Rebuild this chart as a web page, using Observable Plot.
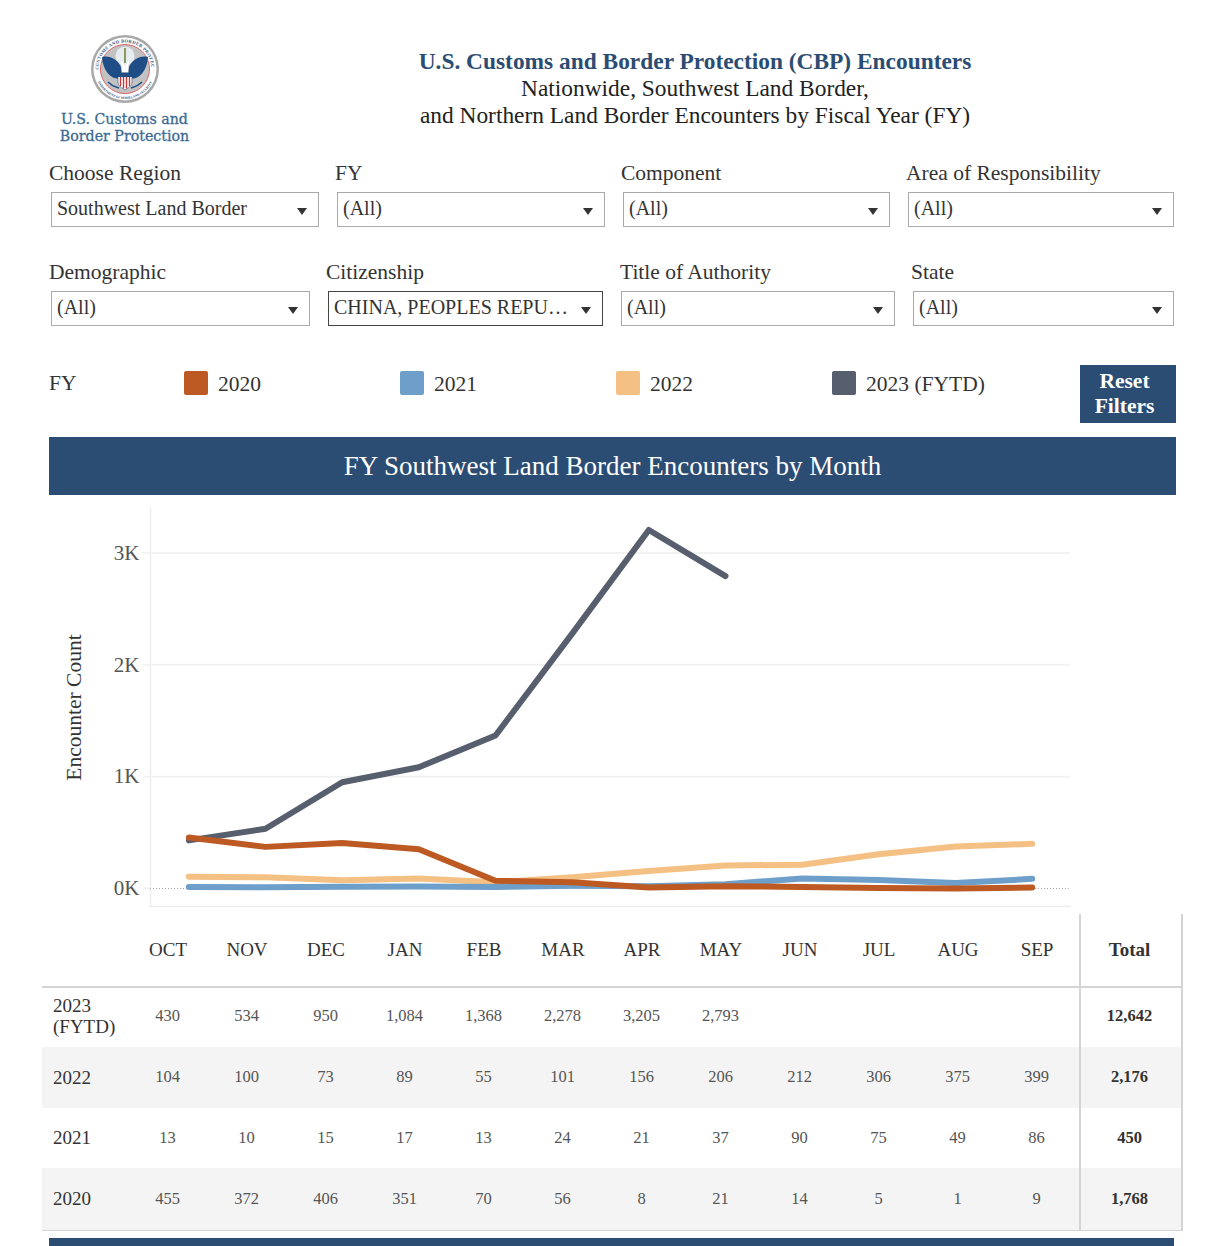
<!DOCTYPE html>
<html lang="en">
<head>
<meta charset="utf-8">
<title>U.S. Customs and Border Protection (CBP) Encounters</title>
<script src="https://cdn.jsdelivr.net/npm/d3@7"></script>
<script src="https://cdn.jsdelivr.net/npm/@observablehq/plot@0.6"></script>
<style>
  html, body { margin: 0; padding: 0; background: #fff; }
  #page { position: relative; width: 1208px; height: 1246px; overflow: hidden;
          font-family: "Liberation Serif", serif; color: #2b2b2b; }
  .abs { position: absolute; white-space: nowrap; }
  .lbl { font-size: 21.5px; line-height: 24px; color: #333; }
  .sel { position: absolute; box-sizing: border-box; height: 35px; border: 1px solid #aaa; background: #fff;
         font-size: 20px; line-height: 31px; padding-left: 5px; color: #333; white-space: nowrap; }
  .sel::after { content: ""; position: absolute; right: 11px; top: 15px; width: 0; height: 0;
         border-left: 5px solid transparent; border-right: 5px solid transparent; border-top: 7px solid #333; }
  .head { left: 195px; width: 1000px; text-align: center; font-size: 23.4px; line-height: 27px; color: #222; }
  .band { background: #2c4d73; color: #fff; text-align: center; }
  .sw { position: absolute; width: 24px; height: 24px; border-radius: 2px; }
  #chart { position: absolute; left: 0; top: 508px; }
  #tbl { position: absolute; left: 42px; top: 914px; width: 1140px; border-collapse: collapse;
         table-layout: fixed; border-spacing: 0; }
  #tbl th, #tbl td { padding: 0; text-align: center; font-weight: normal; }
  #tbl thead th { height: 72px; font-size: 19px; color: #333; border-bottom: 2px solid #d4d4d4; }
  #tbl tbody td { font-size: 16.5px; color: #555; padding-right: 1px; box-sizing: border-box; }
  #tbl tbody tr:nth-child(1) { height: 60px; }
  #tbl tbody tr:nth-child(1) td { padding-bottom: 3px; }
  #tbl tbody tr:nth-child(2) { height: 61px; }
  #tbl tbody tr:nth-child(2) td { padding-bottom: 1px; }
  #tbl tbody tr:nth-child(3) { height: 60px; }
  #tbl tbody tr:nth-child(3) td { padding-bottom: 1px; }
  #tbl tbody tr:nth-child(4) { height: 62px; }
  #tbl tbody tr:nth-child(even) td { background: #f4f4f4; }
  #tbl td.yr { text-align: left; padding-left: 11px; font-size: 19px; line-height: 21px; color: #333; }
  #tbl .tot { border-left: 2px solid #d4d4d4; border-right: 2px solid #d4d4d4; font-weight: bold; color: #333; }
  #tbl thead th.tot { padding-right: 3px; }
  #tbl tbody td.tot { color: #333; font-weight: bold; padding-right: 3px; }
  #tbl tbody tr:last-child td { border-bottom: 1.5px solid #d4d4d4; }
</style>
</head>
<body>
<div id="page">
  <svg class="abs" style="left:88px;top:32px" width="74" height="74" viewBox="-37 -37 74 74" aria-label="CBP seal">
    <defs><path id="ringTop" d="M -26.5 0 A 26.5 26.5 0 0 1 26.5 0"/><path id="ringBot" d="M -30 0 A 30 30 0 0 0 30 0"/></defs>
    <circle r="34" fill="#a8a8a8"/><circle r="31.5" fill="#fff"/>
    <circle r="24.5" fill="#c2c2c2" stroke="#d66" stroke-width="1"/>
    <text font-size="4.6" font-weight="bold" fill="#34557c" letter-spacing=".3"><textPath href="#ringTop" startOffset="50%" text-anchor="middle">U.S. CUSTOMS AND BORDER PROTECTION</textPath></text>
    <text font-size="3.3" font-weight="bold" fill="#34557c"><textPath href="#ringBot" startOffset="50%" text-anchor="middle">DEPARTMENT OF HOMELAND SECURITY</textPath></text>
    <circle cy="-13" r="9.5" fill="#e6ecf0"/>
    <path d="M -1 -21 L 1 -21 L 1 -6 L -1 -6 Z" fill="#8a9a5b"/>
    <path d="M -23 -12 C -15 -14 -7 -9 -4 -2 L -3 8 C -9 13 -22 6 -23 -12 Z" fill="#1f4e86"/>
    <path d="M 23 -12 C 15 -14 7 -9 4 -2 L 3 8 C 9 13 22 6 23 -12 Z" fill="#1f4e86"/>
    <path d="M -4 -8 L 0 -3 L 4 -8 L 3 3 L -3 3 Z" fill="#fff"/>
    <path d="M -7 4 H 7 V 13 C 7 17 3 19 0 21 C -3 19 -7 17 -7 13 Z" fill="#fff" stroke="#1f4e86" stroke-width=".6"/>
    <path d="M -7 4 H 7 V 8 H -7 Z" fill="#1f4e86"/>
    <path d="M -4.5 8 V 17 M -1.5 8 V 19.5 M 1.5 8 V 19.5 M 4.5 8 V 17" stroke="#c03a3a" stroke-width="1.4"/>
    <path d="M -17 13 C -12 18 -9 18 -6 19 M 17 13 C 12 18 9 18 6 19" fill="none" stroke="#1f4e86" stroke-width="1.6"/>
  </svg>
  <div class="abs" style="left:24.5px;width:200px;top:111px;text-align:center;font-family:'DejaVu Serif',serif;font-size:14.2px;line-height:17px;color:#3b6a94;-webkit-text-stroke:.3px #3b6a94">U.S. Customs and<br>Border Protection</div>

  <div class="abs head" style="top:48px;font-weight:bold;color:#2c4d73">U.S. Customs and Border Protection (CBP) Encounters</div>
  <div class="abs head" style="top:75px">Nationwide, Southwest Land Border,</div>
  <div class="abs head" style="top:102px">and Northern Land Border Encounters by Fiscal Year (FY)</div>

  <div class="abs lbl" style="left:49px;top:161px">Choose Region</div>
  <div class="abs lbl" style="left:335px;top:161px">FY</div>
  <div class="abs lbl" style="left:621px;top:161px">Component</div>
  <div class="abs lbl" style="left:906px;top:161px">Area of Responsibility</div>
  <div class="sel" style="left:51px;top:192px;width:268px">Southwest Land Border</div>
  <div class="sel" style="left:337px;top:192px;width:268px">(All)</div>
  <div class="sel" style="left:623px;top:192px;width:267px">(All)</div>
  <div class="sel" style="left:908px;top:192px;width:266px">(All)</div>

  <div class="abs lbl" style="left:49px;top:260px">Demographic</div>
  <div class="abs lbl" style="left:326px;top:260px">Citizenship</div>
  <div class="abs lbl" style="left:620px;top:260px">Title of Authority</div>
  <div class="abs lbl" style="left:911px;top:260px">State</div>
  <div class="sel" style="left:51px;top:291px;width:259px">(All)</div>
  <div class="sel" style="left:328px;top:291px;width:275px;border-color:#444">CHINA, PEOPLES REPU…</div>
  <div class="sel" style="left:621px;top:291px;width:274px">(All)</div>
  <div class="sel" style="left:913px;top:291px;width:261px">(All)</div>

  <div class="abs lbl" style="left:49px;top:371px">FY</div>
  <div id="legend"></div>
  <div class="abs band" style="left:1080px;top:365px;width:96px;height:58px;font-weight:bold;font-size:21.5px;line-height:25px;padding:4px 7px 0 0;box-sizing:border-box">Reset<br>Filters</div>

  <div class="abs band" style="left:49px;top:437px;width:1127px;height:58px;font-size:27px;line-height:59px">FY Southwest Land Border Encounters by Month</div>
  <div id="chart"></div>
  <table id="tbl"></table>
  <div class="abs band" style="left:49px;top:1238px;width:1125px;height:8px"></div>
</div>
<script>
const months = ["OCT","NOV","DEC","JAN","FEB","MAR","APR","MAY","JUN","JUL","AUG","SEP"];
const years = ["2023 (FYTD)","2022","2021","2020"];
const legendYears = ["2020","2021","2022","2023 (FYTD)"];
const colors = ["#575e6d","#f5c083","#6d9fca","#bd5a23"];
const fy2023 = [430,534,950,1084,1368,2278,3205,2793,null,null,null,null];
const fy2022 = [104,100,73,89,55,101,156,206,212,306,375,399];
const fy2021 = [13,10,15,17,13,24,21,37,90,75,49,86];
const fy2020 = [455,372,406,351,70,56,8,21,14,5,1,9];
const totals = [12642,2176,450,1768];
const series = [fy2023,fy2022,fy2021,fy2020];
const yTicks = [0,1000,2000,3000];

const rows = years.flatMap((year,i) => months.map((month,j) => ({year, month, value: series[i][j]})))
  .filter(d => d.value !== null);

const plot = Plot.plot({
  width: 1208, height: 398,
  marginLeft: 150, marginRight: 138, marginTop: 0, marginBottom: 0,
  style: {background: "transparent", fontFamily: '"Liberation Serif", serif', overflow: "visible"},
  x: {type: "point", domain: months, padding: 0.5, round: false, axis: null},
  y: {domain: [-161, 3397], axis: null},
  color: {domain: years, range: colors},
  marks: [
    Plot.frame({anchor: "left", stroke: "#ededed", strokeWidth: 1.5}),
    Plot.frame({anchor: "bottom", stroke: "#ededed", strokeWidth: 1.5}),
    Plot.gridY(yTicks.slice(1), {stroke: "#f2f2f2", strokeOpacity: 1, strokeWidth: 2}),
    Plot.axisY({
      ticks: yTicks, tickSize: 7, tickPadding: 4,
      stroke: "#f2f2f2", strokeWidth: 2, fill: "#555", fontSize: 21,
      tickFormat: d => d / 1000 + "K",
      label: "Encounter Count", labelAnchor: "center", labelArrow: "none", labelOffset: 85
    }),
    Plot.ruleY([0], {stroke: "#aaa", strokeDasharray: "1,2"}),
    Plot.line(rows, {x: "month", y: "value", z: "year", stroke: "year", strokeWidth: 6})
  ]
});
document.getElementById("chart").append(plot);
plot.querySelectorAll("text").forEach(t => {
  if (t.textContent === "Encounter Count") { t.style.fontSize = "21.5px"; t.style.fill = "#333"; }
});

// legend
const lg = document.getElementById("legend");
const legendLefts = d3.scalePoint().domain(legendYears).range([184, 832]);
legendYears.forEach(y => {
  const sw = document.createElement("div");
  sw.className = "sw";
  sw.style.left = legendLefts(y) + "px"; sw.style.top = "371px";
  sw.style.background = colors[years.indexOf(y)];
  const t = document.createElement("div");
  t.className = "abs lbl";
  t.style.left = legendLefts(y) + 34 + "px"; t.style.top = "372px";
  t.textContent = y;
  lg.append(sw, t);
});

// table
const fmt = d3.format(",");
const tbl = d3.select("#tbl");
const cg = tbl.append("colgroup");
cg.append("col").style("width", "86.5px");
months.forEach(() => cg.append("col").style("width", "79px"));
cg.append("col").style("width", "3.5px");
cg.append("col").style("width", "102px");
const hr = tbl.append("thead").append("tr");
hr.append("th");
months.forEach(m => hr.append("th").text(m));
hr.append("th");
hr.append("th").attr("class", "tot").text("Total");
const tb = tbl.append("tbody");
years.forEach((y,i) => {
  const tr = tb.append("tr");
  tr.append("td").attr("class", "yr").text(y);
  series[i].forEach(v => tr.append("td").text(v === null ? "" : fmt(v)));
  tr.append("td");
  tr.append("td").attr("class", "tot").text(fmt(totals[i]));
});
</script>
</body>
</html>
